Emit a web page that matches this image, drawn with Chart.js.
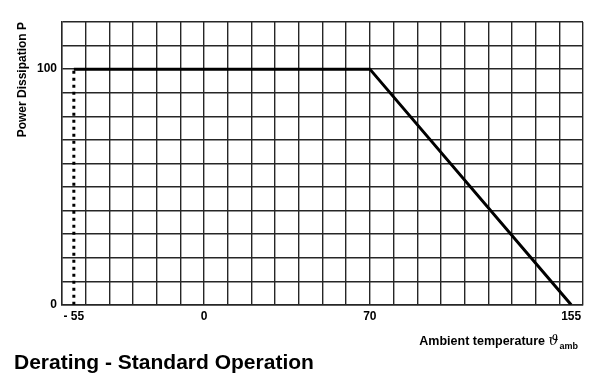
<!DOCTYPE html>
<html>
<head>
<meta charset="utf-8">
<script src="https://cdn.jsdelivr.net/npm/chart.js@4/dist/chart.umd.min.js"></script>
<style>
html,body{margin:0;padding:0;background:#fff;}
#wrap{width:600px;height:378px;position:relative;}
</style>
</head>
<body>
<div id="wrap"><canvas id="c" width="600" height="378"></canvas></div>
<script>
// Derating curve (ambient temperature in °C, power dissipation in %)
const tempPoints = [-55, 70, 155];
const powerPoints = [100, 100, 0];
// Dotted lower-limit marker at -55 °C
const limitTemp = [-55, -55];
const limitPower = [0, 100];
// Axis ranges and labelled ticks
const xRange = [-60, 160];
const yRange = [0, 120];
const gridStep = 10;
const xTickLabels = [-55, 0, 70, 155];
const yTickLabels = [0, 100];
const chartTitle = 'Derating - Standard Operation';
const xTitleMain = 'Ambient temperature ';
const xTitleSymbol = 'ϑ';
const xTitleSub = 'amb';
const yTitle = 'Power Dissipation P';

const gridColor = '#262626';
const FONT = "'Liberation Sans', Arial, Helvetica, sans-serif";

function gridValues(range) {
  const v = [];
  for (let t = range[0]; t <= range[1] + 1e-9; t += gridStep) v.push(t);
  return v;
}

const xTicks = Array.from(new Set(gridValues(xRange).concat(xTickLabels))).sort((a, b) => a - b);
const yTicks = gridValues(yRange);

const xTitlePlugin = {
  id: 'xTitle',
  afterDraw(chart) {
    const ctx = chart.ctx;
    const area = chart.chartArea;
    ctx.save();
    ctx.fillStyle = '#000';
    ctx.textBaseline = 'alphabetic';
    const f1 = "bold 12.5px " + FONT;
    const f2 = "italic 14px 'DejaVu Serif', serif";
    const f3 = "bold 9px " + FONT;
    ctx.font = f1; const w1 = ctx.measureText(xTitleMain).width;
    ctx.font = f2; const w2 = ctx.measureText(xTitleSymbol).width;
    ctx.font = f3; const w3 = ctx.measureText(xTitleSub).width;
    const right = area.right - 5;
    let x = right - (w1 + w2 + 1 + w3);
    const base = area.bottom + 40;
    ctx.font = f1; ctx.textAlign = 'left'; ctx.fillText(xTitleMain, x, base); x += w1;
    ctx.font = f2; ctx.fillText(xTitleSymbol, x, base); x += w2 + 1;
    ctx.font = f3; ctx.fillText(xTitleSub, x, base + 4);
    ctx.restore();
  }
};

const data = {
  datasets: [
    {
      data: tempPoints.map((t, i) => ({x: t, y: powerPoints[i]})),
      borderColor: '#000',
      borderWidth: 3,
      pointRadius: 0,
      tension: 0,
      fill: false
    },
    {
      data: limitTemp.map((t, i) => ({x: t, y: limitPower[i]})),
      borderColor: '#000',
      borderWidth: 3,
      borderDash: [3, 4],
      borderCapStyle: 'butt',
      pointRadius: 0,
      fill: false
    }
  ]
};

new Chart(document.getElementById('c'), {
  type: 'line',
  data: data,
  plugins: [xTitlePlugin],
  options: {
    responsive: false,
    animation: false,
    events: [],
    layout: {padding: {left: 14, top: 22, right: 17, bottom: 0}},
    plugins: {
      legend: {display: false},
      tooltip: {enabled: false},
      title: {
        display: true,
        text: chartTitle,
        position: 'bottom',
        align: 'start',
        color: '#000',
        font: {family: FONT, size: 21, weight: 'bold'},
        padding: {top: 0, bottom: 2}
      }
    },
    scales: {
      x: {
        type: 'linear',
        min: xRange[0],
        max: xRange[1],
        afterBuildTicks: s => { s.ticks = xTicks.map(v => ({value: v})); },
        afterFit: s => { s.height = 46; },
        grid: {
          color: c => (c.tick && c.tick.value % gridStep !== 0) ? 'rgba(0,0,0,0)' : gridColor,
          lineWidth: 1.4,
          drawTicks: false
        },
        border: {display: true, color: gridColor, width: 1.4},
        ticks: {
          autoSkip: false,
          maxRotation: 0,
          padding: 5,
          color: '#000',
          font: {family: FONT, size: 12, weight: 'bold'},
          callback: v => xTickLabels.includes(v) ? (v < 0 ? '- ' + Math.abs(v) : String(v)) : ''
        }
      },
      y: {
        type: 'linear',
        min: yRange[0],
        max: yRange[1],
        afterBuildTicks: s => { s.ticks = yTicks.map(v => ({value: v})); },
        afterFit: s => { s.width = 48; },
        grid: {color: gridColor, lineWidth: 1.4, drawTicks: false},
        border: {display: true, color: gridColor, width: 1.4},
        ticks: {
          autoSkip: false,
          padding: 5,
          color: '#000',
          font: {family: FONT, size: 12, weight: 'bold'},
          callback: v => yTickLabels.includes(v) ? String(v) : ''
        },
        title: {
          display: true,
          text: yTitle,
          align: 'end',
          color: '#000',
          font: {family: FONT, size: 12, weight: 'bold'},
          padding: {top: 1, bottom: 0}
        }
      }
    }
  }
});
</script>
</body>
</html>
